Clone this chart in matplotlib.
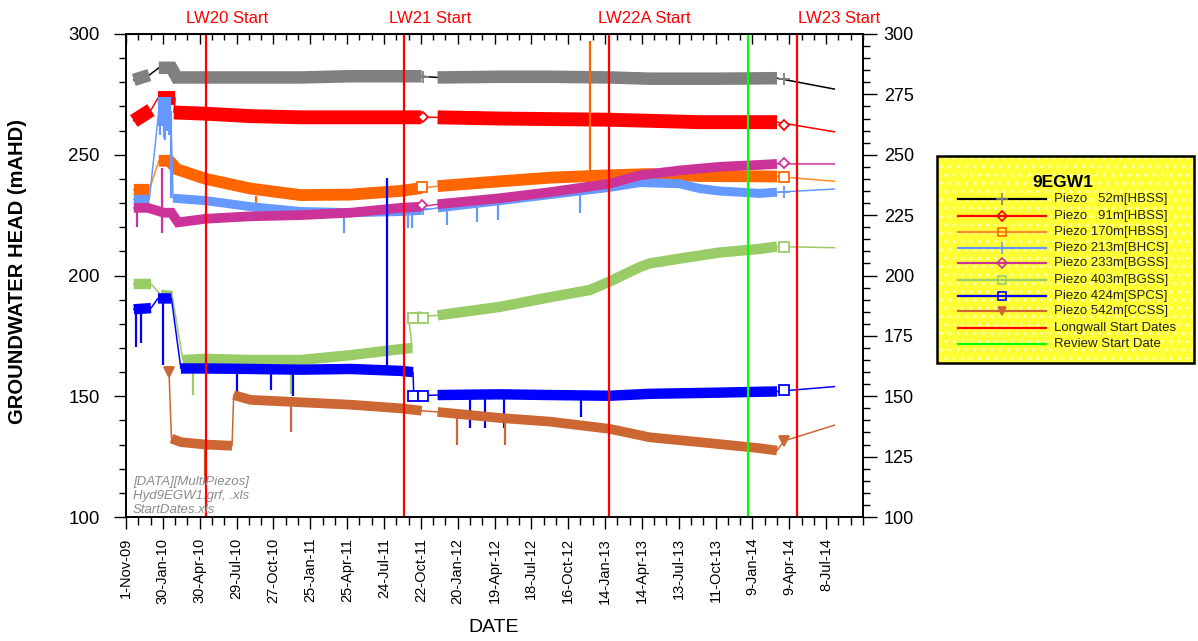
import numpy as np
import pandas as pd
import matplotlib
matplotlib.use('Agg')
import matplotlib.pyplot as plt
import matplotlib.dates as mdates
import matplotlib.transforms as mtransforms
from matplotlib.ticker import FixedLocator, MultipleLocator, NullFormatter
from matplotlib.patches import Rectangle

plt.rcParams['font.family'] = ['Liberation Sans', 'DejaVu Sans']

# ---------------- data (None = break in the logged record) ----------------
p52_dates = ['2009-11-20', '2009-12-28', '2010-01-01', '2010-01-20', '2010-02-20', '2010-03-05', '2010-09-01',
             '2011-01-01', '2011-05-01', '2011-10-24', '2011-11-10', '2011-12-02', '2012-05-01', '2012-09-01',
             '2013-01-25', '2013-05-03', '2013-10-20', '2014-03-10', '2014-03-20', '2014-07-28']
p52_vals = [281, 283, None, 286, 286, 282, 282, 282, 282.5, 282.5, None, 282, 282.3, 282.3, 282, 281.5, 281.5,
            281.7, None, 277.2]

p91_dates = ['2009-11-20', '2010-01-01', '2010-01-05', '2010-01-18', '2010-03-01', '2010-03-02', '2010-02-26',
             '2010-05-15', '2010-09-01', '2011-01-01', '2011-09-02', '2011-10-24', '2011-11-10', '2011-12-02',
             '2012-05-02', '2013-01-25', '2013-09-02', '2014-03-10', '2014-03-20', '2014-07-28']
p91_vals = [264, 268.5, None, 273.5, 273.5, None, 267.5, 267, 266, 265.5, 265.5, 265.5, None, 265.5, 265, 264.5,
            263.5, 263.5, None, 259.5]

p170_dates = ['2009-11-20', '2009-12-28', '2010-01-05', '2010-01-20', '2010-02-15', '2010-03-05', '2010-05-15',
              '2010-09-01', '2011-01-01', '2011-05-03', '2011-09-02', '2011-10-24', '2011-11-10', '2011-12-02',
              '2012-05-02', '2012-09-01', '2013-01-25', '2013-05-03', '2013-09-02', '2014-03-10', '2014-03-20',
              '2014-07-28']
p170_vals = [235.5, 235.5, None, 247.5, 247.5, 244, 240, 236, 233.3, 233.5, 235, 236.2, None, 237, 239, 240.5,
             241.5, 242, 241.2, 241, None, 239]

p213_dates = ['2009-11-20', '2009-12-28', '2010-01-05', '2010-01-20', '2010-02-18', '2010-02-20', '2010-02-24',
              '2010-05-15', '2010-09-01', '2011-01-01', '2011-05-03', '2011-09-02', '2011-10-24', '2011-11-10',
              '2011-12-02', '2012-05-02', '2012-09-01', '2013-01-25', '2013-04-09', '2013-07-15', '2013-09-02',
              '2013-10-20', '2014-01-26', '2014-03-10', '2014-03-20', '2014-07-28']
p213_vals = [231.5, 231.5, None, 268, 268, None, 232, 231, 228.5, 226.5, 226, 226.5, 227, None, 228, 231, 233.5,
             236.5, 238.5, 238, 236, 235, 234, 234.5, None, 235.8]

p233_dates = ['2009-11-20', '2009-12-25', '2010-02-01', '2010-02-20', '2010-03-08', '2010-05-15', '2010-09-01',
              '2011-01-01', '2011-05-03', '2011-09-02', '2011-10-24', '2011-11-10', '2011-12-02', '2012-05-02',
              '2012-09-01', '2013-01-25', '2013-04-09', '2013-07-15', '2013-10-20', '2014-01-26', '2014-03-10',
              '2014-03-20', '2014-07-28']
p233_vals = [228, 228, 226, 226, 222, 223.5, 224.5, 225, 226, 228, 228.5, None, 229.5, 232, 234.5, 238, 241.5,
             243.5, 245, 245.8, 246.2, None, 246.2]

p403_dates = ['2009-11-20', '2010-01-01', '2010-01-10', '2010-01-25', '2010-02-22', '2010-03-01', '2010-03-20',
              '2010-05-15', '2010-09-01', '2011-01-01', '2011-05-03', '2011-09-02', '2011-10-01', '2011-10-02',
              '2011-09-22', '2011-10-24', '2011-11-10', '2011-12-02', '2012-05-02', '2012-09-01', '2012-12-08',
              '2013-01-25', '2013-04-09', '2013-05-03', '2013-07-15', '2013-10-20', '2014-01-26', '2014-03-10',
              '2014-03-20', '2014-07-28']
p403_vals = [196.5, 196.5, None, 192, 191.5, None, 165, 165.5, 165, 165, 167, 169.5, 170, None, 182.5, 183, None,
             183.5, 187, 191, 194, 197.5, 203.5, 205, 207, 209.5, 211, 212, None, 211.5]

p424_dates = ['2009-11-20', '2010-01-01', '2010-01-10', '2010-01-18', '2010-02-20', '2010-03-01', '2010-03-15',
              '2010-05-15', '2010-09-01', '2011-01-01', '2011-05-03', '2011-09-02', '2011-10-03', '2011-10-04',
              '2011-10-05', '2011-10-24', '2011-11-10', '2011-12-02', '2012-05-02', '2012-09-01', '2013-01-25',
              '2013-05-03', '2013-10-20', '2014-03-10', '2014-03-20', '2014-07-28']
p424_vals = [186, 186.5, None, 190.5, 190.5, None, 161.5, 161.5, 161.3, 161, 161.3, 160.5, 160, None, 150, 150.3,
             None, 150.5, 150.8, 150.5, 150.2, 151, 151.5, 152, None, 154]

p542_dates = ['2010-02-14', '2010-02-17', '2010-02-20', '2010-03-15', '2010-05-15', '2010-07-18', '2010-07-20',
              '2010-07-22', '2010-09-01', '2011-01-01', '2011-05-03', '2011-09-02', '2011-10-24', '2011-11-10',
              '2011-12-02', '2012-05-02', '2012-09-01', '2013-01-25', '2013-05-03', '2013-09-02', '2014-01-26',
              '2014-03-10', '2014-03-20', '2014-03-27', '2014-04-01', '2014-07-28']
p542_vals = [160, None, 132.5, 131, 130, 129.5, None, 150.5, 148.5, 147.5, 146.5, 145, 144, None, 143.5, 141,
             139.5, 136.5, 133, 131, 128.5, 127.5, None, 131.5, None, 138]

# short single readings (spikes): date, from, to
p170_spk_dates = ['2010-09-14', '2012-12-08']
p170_spk_from = [233, 241]
p170_spk_to = [229, 297]
p213_spk_dates = ['2010-01-20', '2010-01-24', '2010-01-28', '2010-02-01', '2010-02-05', '2010-02-09',
                  '2010-02-13', '2010-02-17', '2010-02-20', '2011-04-17', '2011-09-20', '2011-10-01',
                  '2011-12-25', '2012-03-08', '2012-04-27', '2012-11-13']
p213_spk_from = [274, 274, 274, 274, 274, 274, 274, 274, 268, 226, 227, 227, 228, 230, 231, 233.5]
p213_spk_to = [262, 258, 262, 257, 256, 260, 258, 262, 232, 217.5, 219.5, 219.5, 221, 222, 223, 226]
p233_spk_dates = ['2009-11-28', '2010-01-28']
p233_spk_from = [228, 244.5]
p233_spk_to = [220, 217.5]
p403_spk_dates = ['2010-04-13', '2010-12-10']
p403_spk_from = [165, 165]
p403_spk_to = [150.5, 151]
p424_spk_dates = ['2009-11-25', '2009-12-08', '2010-01-30', '2010-07-29', '2010-10-20', '2010-12-15',
                  '2011-08-01', '2012-02-18', '2012-03-28', '2012-05-12', '2012-11-16']
p424_spk_from = [186, 186, 190.5, 161, 161, 161, 160, 150.8, 150.8, 150.8, 150.5]
p424_spk_to = [170.5, 172, 163, 151, 152.5, 150, 240.5, 137, 137, 137, 141.5]
p542_spk_dates = ['2010-05-13', '2010-12-08', '2012-01-19', '2012-05-15']
p542_spk_from = [130, 148, 143, 141]
p542_spk_to = [114, 135, 130, 130]

# plotted symbols
p52_mk_dates = ['2011-10-28', '2014-03-27']
p52_mk_vals = [282.3, 281.5]
p91_mk_dates = ['2011-10-28', '2014-03-27']
p91_mk_vals = [265.5, 262.5]
p170_mk_dates = ['2011-10-26', '2014-03-27']
p170_mk_vals = [236.6, 240.8]
p213_mk_dates = ['2011-10-28', '2014-03-27']
p213_mk_vals = [227.5, 234.6]
p233_mk_dates = ['2011-10-26', '2014-03-27']
p233_mk_vals = [229.2, 246.6]
p403_mk_dates = ['2011-10-02', '2011-10-28', '2014-03-27']
p403_mk_vals = [182.4, 182.4, 211.8]
p424_mk_dates = ['2011-10-02', '2011-10-28', '2014-03-27']
p424_mk_vals = [150.3, 150.3, 152.6]
p542_mk_dates = ['2010-02-14', '2014-03-27']
p542_mk_vals = [160, 131.5]

labels = ['Piezo   52m[HBSS]', 'Piezo   91m[HBSS]', 'Piezo 170m[HBSS]', 'Piezo 213m[BHCS]',
          'Piezo 233m[BGSS]', 'Piezo 403m[BGSS]', 'Piezo 424m[SPCS]', 'Piezo 542m[CCSS]']

longwall_dates = ['2010-05-15', '2011-09-12', '2013-01-23', '2014-04-28']
longwall_labels = ['LW20 Start', 'LW21 Start', 'LW22A Start', 'LW23 Start']
review_date = '2013-12-28'

tick_start = '2009-11-01'
x_min, x_max = '2009-11-01', '2014-10-06'

# ---------------- styles ----------------
styles = [
    dict(band='#808080', line='black', lw=9.0, m='+', mfc='none', mec='#808080', ms=9),
    dict(band='#ff0000', line='#ff0000', lw=10.0, m='D', mfc='white', mec='#ff0000', ms=5.5),
    dict(band='#ff6600', line='#ff8c2a', lw=8.5, m='s', mfc='white', mec='#ff6600', ms=6.5),
    dict(band='#6699ff', line='#6699ff', lw=6.5, m='+', mfc='none', mec='#6699ff', ms=9),
    dict(band='#cc3399', line='#cc3399', lw=7.0, m='D', mfc='white', mec='#cc3399', ms=5.5),
    dict(band='#99cc66', line='#99cc66', lw=7.5, m='s', mfc='white', mec='#99cc66', ms=6.5),
    dict(band='#0000ff', line='#0000ff', lw=7.5, m='s', mfc='white', mec='#0000ff', ms=6.5),
    dict(band='#cc6633', line='#cc6633', lw=7.0, m='v', mfc='#cc6633', mec='#cc6633', ms=7),
]
# label left edge offset from its longwall line (pixels)
label_offsets_px = [-20, -15, -11, 1]

series = [
    (p52_dates, p52_vals, [], [], [], p52_mk_dates, p52_mk_vals),
    (p91_dates, p91_vals, [], [], [], p91_mk_dates, p91_mk_vals),
    (p170_dates, p170_vals, p170_spk_dates, p170_spk_from, p170_spk_to, p170_mk_dates, p170_mk_vals),
    (p213_dates, p213_vals, p213_spk_dates, p213_spk_from, p213_spk_to, p213_mk_dates, p213_mk_vals),
    (p233_dates, p233_vals, p233_spk_dates, p233_spk_from, p233_spk_to, p233_mk_dates, p233_mk_vals),
    (p403_dates, p403_vals, p403_spk_dates, p403_spk_from, p403_spk_to, p403_mk_dates, p403_mk_vals),
    (p424_dates, p424_vals, p424_spk_dates, p424_spk_from, p424_spk_to, p424_mk_dates, p424_mk_vals),
    (p542_dates, p542_vals, p542_spk_dates, p542_spk_from, p542_spk_to, p542_mk_dates, p542_mk_vals),
]


def dn(lst):
    return mdates.date2num(pd.to_datetime(lst))


W, H = 1198, 641
fig = plt.figure(figsize=(W / 100, H / 100), dpi=100)
ax = fig.add_axes([126 / W, (H - 517) / H, (863 - 126) / W, (517 - 34) / H])

for i, (dts, vals, sd, sf, st, md, mv) in enumerate(series):
    s = styles[i]
    z = 2 + i
    x = dn(dts)
    y = np.array([np.nan if v is None else v for v in vals], dtype=float)
    ok = ~np.isnan(y)
    ax.plot(x[ok], y[ok], color=s['line'], lw=1.1, zorder=z)
    ax.plot(x, y, color=s['band'], lw=s['lw'], solid_capstyle='butt', solid_joinstyle='miter', zorder=z)
    if sd:
        ax.vlines(dn(sd), sf, st, color=s['band'], lw=1.6, zorder=z)
    ax.plot(dn(md), mv, ls='none', marker=s['m'], mfc=s['mfc'], mec=s['mec'], ms=s['ms'], mew=1.3, zorder=z)

blend = mtransforms.blended_transform_factory(ax.transData, ax.transAxes)
for d, lab, off in zip(longwall_dates, longwall_labels, label_offsets_px):
    xv = dn([d])[0]
    ax.axvline(xv, color='#ff0000', lw=1.6, zorder=20)
    tr = blend + mtransforms.ScaledTranslation(off / 100, 0, fig.dpi_scale_trans)
    ax.text(xv, 1.033, lab, transform=tr, ha='left', va='center', color='#ff0000', fontsize=12)
ax.axvline(dn([review_date])[0], color='#00ff00', lw=1.6, zorder=20)

ax.set_xlim(dn([x_min])[0], dn([x_max])[0])
ax.set_ylim(100, 300)

major_x = dn(pd.date_range(tick_start, periods=20, freq='90D'))
minor_x = dn(pd.date_range(tick_start, periods=61, freq='30D'))
ax.xaxis.set_major_locator(FixedLocator(major_x))
ax.xaxis.set_minor_locator(FixedLocator(minor_x))
ax.set_xticklabels([pd.Timestamp(mdates.num2date(v)).strftime('%-d-%b-%y') for v in major_x],
                   rotation=90, fontsize=10.5)
ax.yaxis.set_major_locator(MultipleLocator(50))
ax.yaxis.set_minor_locator(MultipleLocator(10))
ax.tick_params(axis='y', which='major', direction='out', length=9, width=1, labelsize=13.5, pad=10)
ax.tick_params(axis='y', which='minor', direction='out', length=5, width=1)
ax.tick_params(axis='x', which='major', direction='out', length=8.5, width=1, pad=6.5)
ax.tick_params(axis='x', which='minor', direction='out', length=5.5, width=1)
for sp in ax.spines.values():
    sp.set_linewidth(1.2)
    sp.set_color('black')

# top ticks (inward)
axt = ax.secondary_xaxis('top')
axt.xaxis.set_major_locator(FixedLocator(major_x))
axt.xaxis.set_minor_locator(FixedLocator(minor_x))
axt.xaxis.set_major_formatter(NullFormatter())
axt.tick_params(axis='x', which='major', direction='in', length=7, width=1)
axt.tick_params(axis='x', which='minor', direction='in', length=4.5, width=1)

# right axis
axr = ax.twinx()
axr.set_ylim(100, 300)
axr.yaxis.set_major_locator(MultipleLocator(25))
axr.yaxis.set_minor_locator(MultipleLocator(5))
axr.tick_params(axis='y', which='major', direction='out', length=10, width=1, labelsize=13, pad=5)
axr.tick_params(axis='y', which='minor', direction='out', length=5, width=1)
for sp in axr.spines.values():
    sp.set_linewidth(1.2)

fig.text(18 / W, 1 - 272 / H, 'GROUNDWATER HEAD (mAHD)', rotation=90, ha='center', va='center',
         fontsize=14.5, fontweight='bold')
fig.text(494 / W, 1 - 628 / H, 'DATE', ha='center', va='center', fontsize=14)

ax.text(0.0095, 0.084, '[DATA][MultiPiezos]\nHyd9EGW1.grf, .xls\nStartDates.xls', transform=ax.transAxes,
        ha='left', va='top', fontsize=9.5, style='italic', color='#8c8c8c', linespacing=1.2, zorder=25)

# ---------------- legend box ----------------
lx0, lx1, ly0, ly1 = 937, 1194, 156, 363
lax = fig.add_axes([lx0 / W, 1 - ly1 / H, (lx1 - lx0) / W, (ly1 - ly0) / H])
lax.set_xlim(lx0, lx1)
lax.set_ylim(ly1, ly0)
lax.axis('off')
lax.add_patch(Rectangle((lx0, ly0), lx1 - lx0, ly1 - ly0, facecolor='#ffff33', edgecolor='#ffffb8',
                        lw=0, hatch='..', zorder=0))
lax.add_patch(Rectangle((lx0, ly0), lx1 - lx0, ly1 - ly0, facecolor='none', edgecolor='black', lw=1.8,
                        zorder=5, clip_on=False))
lax.text(1063, 183, '9EGW1', ha='center', va='center', fontsize=12.5, fontweight='bold')
ys = [199.5, 215.8, 231.8, 247.8, 263.5, 279.8, 295.6, 311.2, 327.6, 344]
for k in range(8):
    s = styles[k]
    lax.plot([958, 1046], [ys[k], ys[k]], color=s['line'], lw=1.6, zorder=2)
    lax.plot([1002], [ys[k]], marker=s['m'], mfc=s['mfc'] if s['mfc'] != 'white' else 'none',
             mec=s['mec'], ms=s['ms'] * 0.9, mew=1.2, zorder=3)
    lax.text(1054, ys[k], labels[k], ha='left', va='center', fontsize=9.5, color='#222222')
lax.plot([958, 1046], [ys[8], ys[8]], color='#ff0000', lw=1.6)
lax.text(1054, ys[8], 'Longwall Start Dates', ha='left', va='center', fontsize=9.5, color='#222222')
lax.plot([958, 1046], [ys[9], ys[9]], color='#00ff00', lw=1.6)
lax.text(1054, ys[9], 'Review Start Date', ha='left', va='center', fontsize=9.5, color='#222222')

fig.savefig('out.png', dpi=100)
